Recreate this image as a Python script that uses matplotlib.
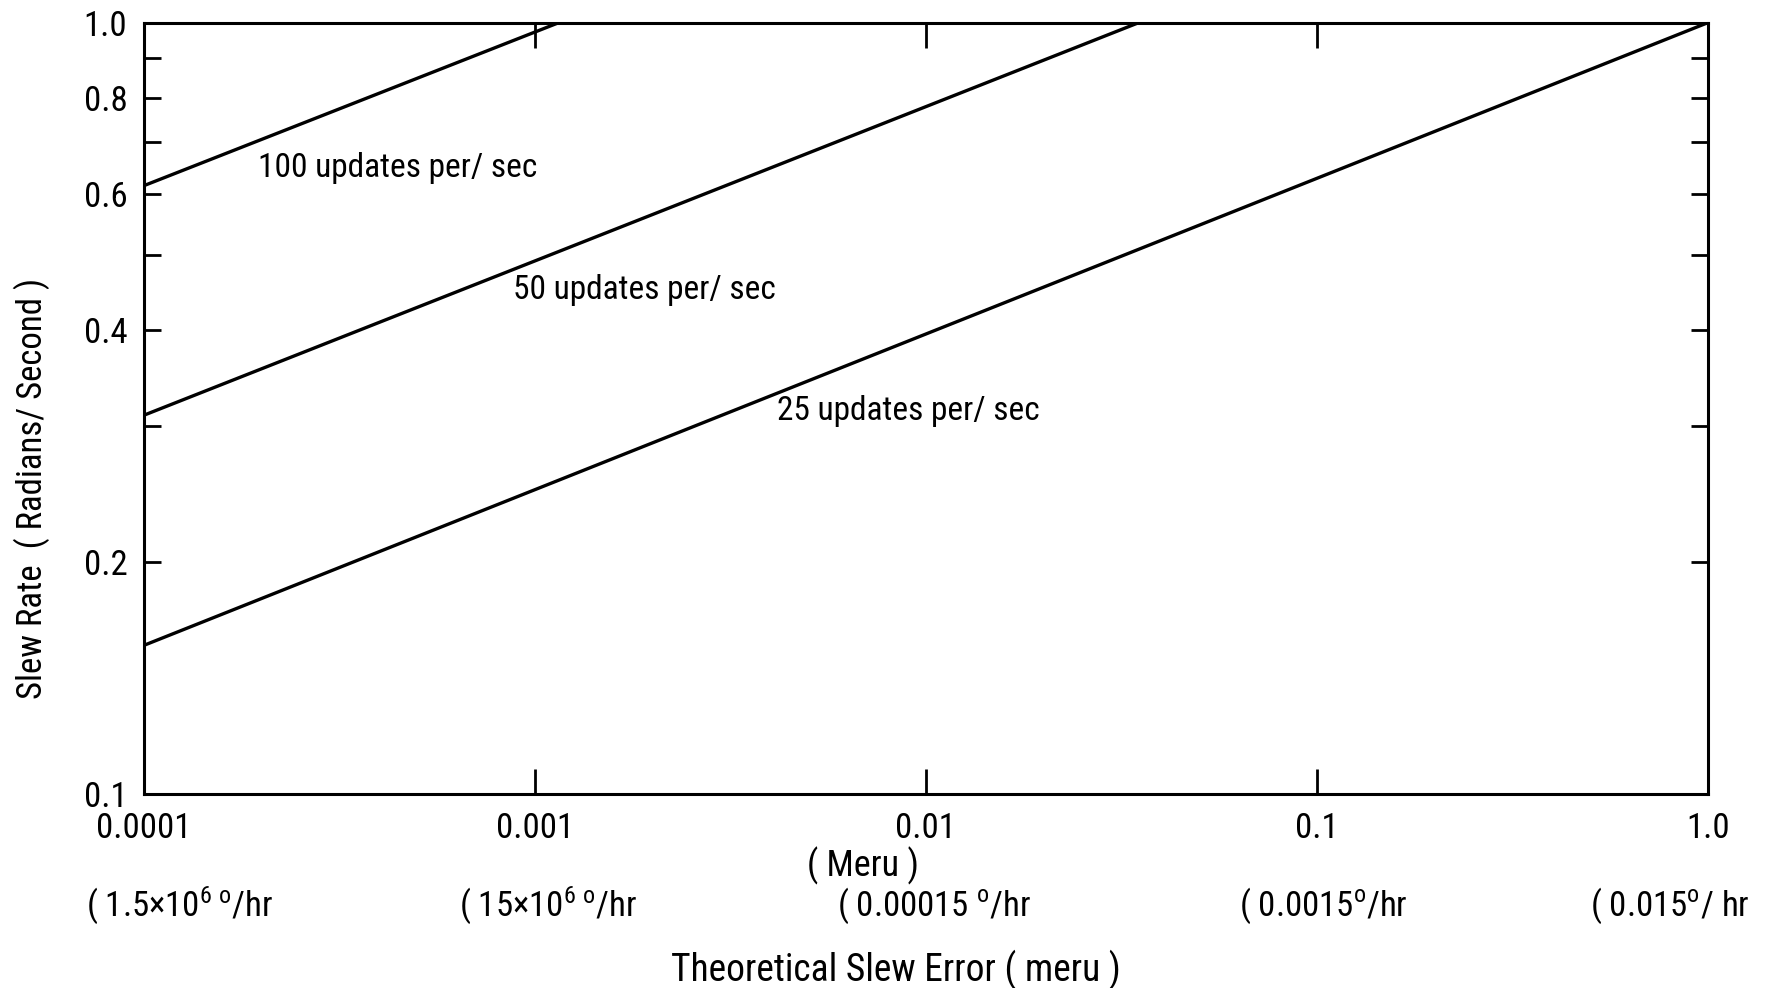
import matplotlib
matplotlib.use('Agg')
import matplotlib.pyplot as plt
import matplotlib.font_manager as fm
from matplotlib.ticker import FixedLocator, FixedFormatter, NullLocator

# the scan uses a condensed typeface; take the narrowest one that is installed
names = {f.name for f in fm.fontManager.ttflist}
cond_dejavu = any(f.name == 'DejaVu Sans' and f.stretch == 'condensed'
                  for f in fm.fontManager.ttflist)
cands = ['Liberation Sans Narrow', 'Roboto Condensed', 'Open Sans Condensed',
         'Noto Sans Condensed']
fam = next((c for c in cands if c in names), None)
if fam is None:
    fam = 'DejaVu Sans' if cond_dejavu else 'Roboto'
plt.rcParams['font.family'] = [fam, 'DejaVu Sans']
plt.rcParams['font.stretch'] = 'condensed'
plt.rcParams['mathtext.default'] = 'regular'

# slew error (meru) vs slew rate (rad/s), straight lines on log-log axes
rate_labels = ['100 updates per/ sec', '50 updates per/ sec', '25 updates per/ sec']
err_100 = [1e-4, 0.00115]
rate_100 = [0.615, 1.0]
err_50 = [1e-4, 0.035]
rate_50 = [0.31, 1.0]
err_25 = [1e-4, 1.0]
rate_25 = [0.156, 1.0]

# where the curve labels sit (data coords)
label_x = [1.96e-4, 8.8e-4, 4.16e-3]
label_y = [0.648, 0.451, 0.314]

x_ticks = [1e-4, 1e-3, 1e-2, 1e-1, 1.0]
x_ticklabels = ['0.0001', '0.001', '0.01', '0.1', '1.0']
y_major = [0.1, 0.2, 0.4, 0.6, 0.8, 1.0]
y_ticklabels = ['0.1', '0.2', '0.4', '0.6', '0.8', '1.0']
y_minor = [0.3, 0.5, 0.7, 0.9]

deg_labels = ['( 1.5\u00d710$^{6\\ o}$/hr',
              '( 15\u00d710$^{6\\ o}$/hr',
              '( 0.00015 $^{o}$/hr',
              '( 0.0015$^{o}$/hr',
              '( 0.015$^{o}$/ hr']
deg_x = [1.23e-4, 1.08e-3, 1.05e-2, 0.104, 0.80]

fig = plt.figure(figsize=(17.73, 9.88), dpi=100)
ax = fig.add_axes([0.0812, 0.196, 0.882, 0.781])

for xs, ys in [(err_100, rate_100), (err_50, rate_50), (err_25, rate_25)]:
    ax.plot(xs, ys, color='black', lw=2.4)

for txt, lx, ly in zip(rate_labels, label_x, label_y):
    ax.text(lx, ly, txt, fontsize=24, ha='left', va='center')

ax.set_xscale('log')
ax.set_yscale('log')
ax.set_xlim(1e-4, 1.0)
ax.set_ylim(0.1, 1.0)

ax.xaxis.set_major_locator(FixedLocator(x_ticks))
ax.xaxis.set_major_formatter(FixedFormatter(x_ticklabels))
ax.xaxis.set_minor_locator(NullLocator())
ax.yaxis.set_major_locator(FixedLocator(y_major))
ax.yaxis.set_major_formatter(FixedFormatter(y_ticklabels))
ax.yaxis.set_minor_locator(FixedLocator(y_minor))
ax.yaxis.set_minor_formatter(FixedFormatter([]))

ax.tick_params(axis='both', which='both', direction='in', top=True, right=True,
               width=2, labelsize=25)
ax.tick_params(axis='x', which='major', length=18, pad=13)
ax.tick_params(axis='y', which='both', length=12, pad=12)

for sp in ax.spines.values():
    sp.set_linewidth(2.2)

tr = ax.get_xaxis_transform()
for txt, dx in zip(deg_labels, deg_x):
    ax.text(dx, -0.145, txt, transform=tr, fontsize=25, ha='center', va='center')
ax.text(0.46, -0.092, '( Meru )', transform=ax.transAxes, fontsize=26,
        ha='center', va='center')

ax.text(0.481, -0.227, 'Theoretical Slew Error ( meru )', transform=ax.transAxes,
        fontsize=27, ha='center', va='center')
fig.text(0.018, 0.506, 'Slew Rate  ( Radians/ Second )', rotation=90,
         fontsize=25, ha='center', va='center')

plt.savefig('out.png', dpi=100)
